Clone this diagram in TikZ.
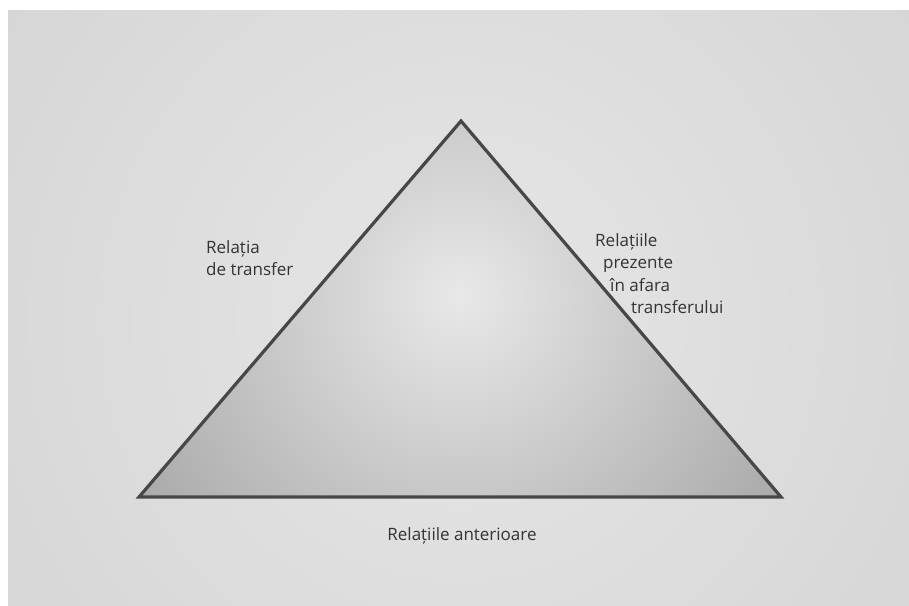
\documentclass[tikz,border=0pt]{standalone}
\usepackage{fontspec}
\setmainfont{Open Sans}
\usepackage{tikz}
\usepackage{xcolor}
\usetikzlibrary{positioning,calc}
\definecolor{pagegray}{HTML}{CCCCCC}
\definecolor{pagelight}{HTML}{E6E6E6}
\definecolor{edgegray}{HTML}{474747}
\definecolor{fillgray}{HTML}{858585}
\definecolor{filllight}{HTML}{E8E8E8}
\definecolor{labelink}{HTML}{333333}
\tikzset{
  label/.style={text=labelink,inner sep=0pt,align=left,
                font=\fontsize{17}{22.5}\selectfont},
  sideedge/.style={draw=edgegray,line width=3.2pt,line join=miter}
}

\begin{document}
\begin{tikzpicture}[x=1pt,y=-1pt]
    \path[use as bounding box] (0,0) rectangle (909,605);
    % scanned page behind the figure
    \fill[pagegray] (8,10) rectangle (925,620);
    \begin{scope}
      \clip (8,10) rectangle (925,620);
      \shade[inner color=pagelight,outer color=pagegray] (460,320) circle (900);
    \end{scope}
    % triangle corners
    \coordinate (apex) at (461,121);
    \coordinate (left) at (139,497);
    \coordinate (right) at (781,497);
    \begin{scope}
      \clip (apex) -- (left) -- (right) -- cycle;
      \shade[inner color=filllight,outer color=fillgray] (460,295) circle (600);
    \end{scope}
    \draw[sideedge] (apex) -- (left) -- (right) -- cycle;
    % labels
    \node[label,anchor=north west] (transfer) at (206,240)
      {Relația\\de transfer};
    \node[label,anchor=north west] (outside) at (595,233)
      {Relațiile\\\hspace*{8pt}prezente\\\hspace*{15pt}în afara\\\hspace*{36pt}transferului};
    \node[label,anchor=base] (previous) at (462,540) {Relațiile anterioare};
  \end{tikzpicture}
\end{document}
